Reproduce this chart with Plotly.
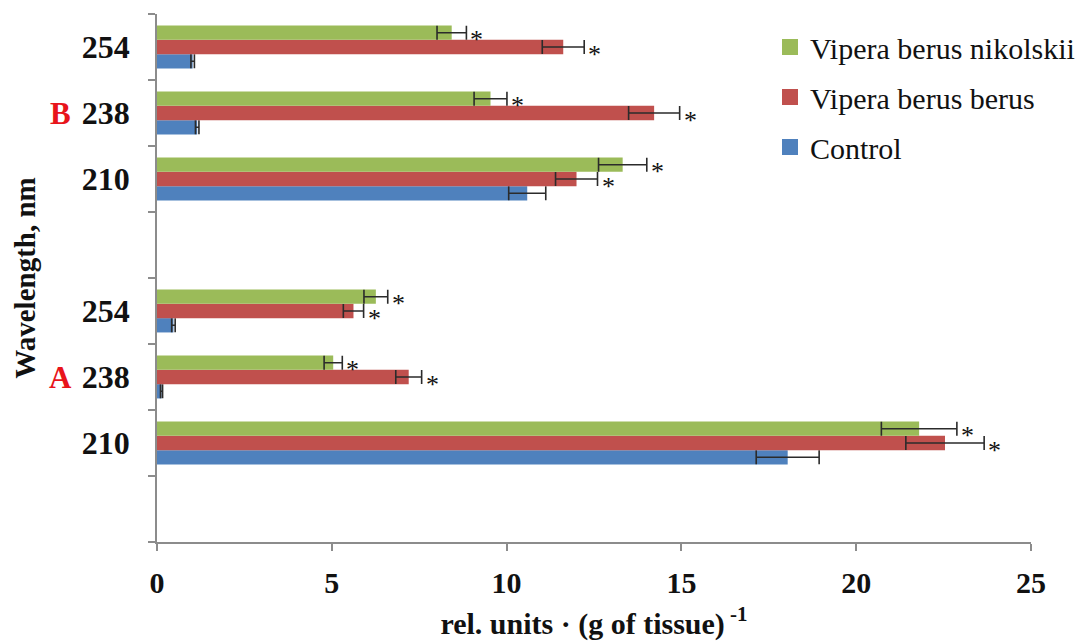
import plotly.graph_objects as go

# ---- data ----
panels = ["A", "B"]
wavelengths = ["210", "238", "254"]
series_names = ["Control", "Vipera berus berus", "Vipera berus nikolskii"]

# order within each list: A-210, A-238, A-254, B-210, B-238, B-254
control = [18.04, 0.13, 0.47, 10.59, 1.15, 1.02]
control_err = [0.90, 0.03, 0.05, 0.53, 0.05, 0.05]
berus = [22.54, 7.20, 5.62, 12.00, 14.22, 11.62]
berus_err = [1.12, 0.37, 0.29, 0.60, 0.73, 0.60]
nikolskii = [21.80, 5.04, 6.26, 13.32, 9.54, 8.43]
nikolskii_err = [1.08, 0.26, 0.34, 0.69, 0.47, 0.42]
significant = [False, True, True]  # asterisk shown for venom groups

x_ticks = [0, 5, 10, 15, 20, 25]

# ---- style ----
colors = ["#4F81BD", "#C0504D", "#9BBB59"]
FONT = "Liberation Serif"

# category positions: each panel occupies 4 slots (one empty slot below)
pos = []
labels = []
for pi, p in enumerate(panels):
    for wi, w in enumerate(wavelengths):
        pos.append(pi * 4 + wi + 1)
        labels.append(w)

values = [control, berus, nikolskii]
errors = [control_err, berus_err, nikolskii_err]

fig = go.Figure()
for name, vals, errs, col in zip(series_names, values, errors, colors):
    fig.add_trace(go.Bar(
        y=pos, x=vals, name=name, orientation="h",
        marker=dict(color=col, line=dict(width=0)),
        error_x=dict(type="data", array=errs, visible=True,
                     color="#2b2b2b", thickness=1.6, width=7),
        showlegend=False,
    ))
# legend entries with larger square swatches (top entry first)
for name, col in reversed(list(zip(series_names, colors))):
    fig.add_trace(go.Scatter(
        x=[None], y=[None], mode="markers", name=name,
        marker=dict(symbol="square", size=16, color=col),
        legendgroup=name, showlegend=True,
    ))

bargap = 0.35
bw = (1 - bargap) / 3
annotations = []
for si, (vals, errs) in enumerate(zip(values, errors)):
    if not significant[si]:
        continue
    off = (si - 1) * bw
    for yv, v, e in zip(pos, vals, errs):
        annotations.append(dict(
            x=v + e, y=yv + off, xref="x", yref="y", text="*",
            showarrow=False, xanchor="left", yanchor="middle",
            xshift=2, yshift=-7,
            font=dict(family=FONT, size=26, color="#111")))

W, H = 1086, 641
ml, mr, mt, mb = 157, 55, 14, 99
pw = W - ml - mr
ph = H - mt - mb

# panel letters
for pi, p in enumerate(panels):
    annotations.append(dict(
        x=(60 - ml) / pw, y=pi * 4 + 2, xref="paper", yref="y",
        text="<b>%s</b>" % p,
        showarrow=False, xanchor="center", yanchor="middle",
        font=dict(family=FONT, size=31, color="#e8141b")))

fig.update_layout(
    width=W, height=H,
    margin=dict(l=ml, r=mr, t=mt, b=mb, autoexpand=False),
    paper_bgcolor="white", plot_bgcolor="white",
    barmode="group", bargap=bargap, bargroupgap=0,
    font=dict(family=FONT, color="#111"),
    showlegend=True,
    legend=dict(
        x=(770 - ml) / pw, y=1 - (21 - mt) / ph,
        xanchor="left", yanchor="top",
        traceorder="grouped", tracegroupgap=8,
        font=dict(family=FONT, size=30, color="#111"),
        bgcolor="rgba(0,0,0,0)", itemwidth=30,
    ),
    xaxis=dict(
        range=[0, 25], tickvals=x_ticks, ticktext=["<b>%d</b>" % t for t in x_ticks],
        showgrid=False, zeroline=False,
        showline=True, linecolor="#8c8c8c", linewidth=1.5,
        ticks="outside", ticklen=7, tickcolor="#8c8c8c", tickwidth=1.5,
        ticklabelstandoff=6,
        tickfont=dict(family=FONT, size=30, color="#111"),
        title=dict(text="<b>rel. units · (g of tissue)</b><sup><b> -1</b></sup>",
                   font=dict(family=FONT, size=30, color="#111"), standoff=24),
        automargin=False,
    ),
    yaxis=dict(
        range=[-0.5, 7.5], tickmode="array", tickvals=pos,
        ticktext=["<b>%s</b>" % l for l in labels],
        showgrid=False, zeroline=False,
        showline=True, linecolor="#8c8c8c", linewidth=1.5,
        ticks="", ticklabelstandoff=19,
        tickfont=dict(family=FONT, size=32, color="#111"),
        minor=dict(tickvals=[i - 0.5 for i in range(9)], ticks="outside",
                   ticklen=7, tickcolor="#8c8c8c", tickwidth=1.5, showgrid=False),
        title=dict(text="<b>Wavelength, nm</b>",
                   font=dict(family=FONT, size=29, color="#111"), standoff=38),
        automargin=False,
    ),
    annotations=annotations,
)

fig.write_html("out.html", config={"displayModeBar": False},
               post_script="document.body.style.margin='0';")
